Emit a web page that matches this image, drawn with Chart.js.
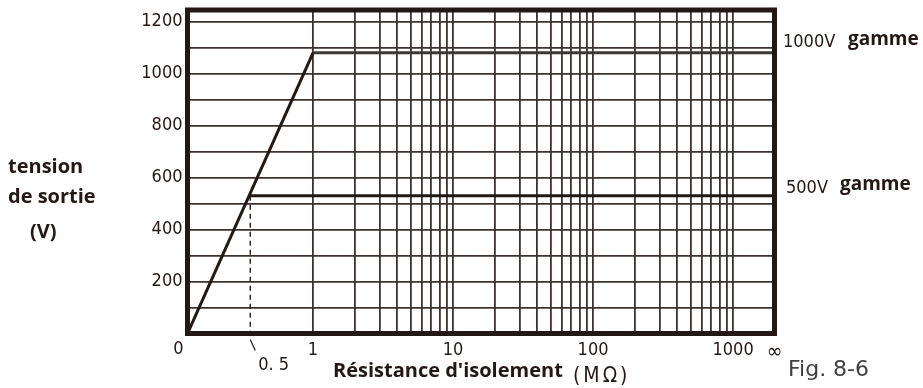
<!DOCTYPE html>
<html>
<head>
<meta charset="utf-8">
<script src="https://cdn.jsdelivr.net/npm/chart.js@4.4.1/dist/chart.umd.min.js"></script>
<style>
html, body { margin: 0; padding: 0; background: #fff; }
#wrap { width: 923px; height: 388px; }
</style>
</head>
<body>
<div id="wrap"><canvas id="fig86" width="923" height="388"></canvas></div>
<script>
// 絶縁抵抗 (MΩ) と出力電圧 (V) — Fig. 8-6
const rampR = [0, 1];
const rampV = [0, 1080];
const range1000R = [1, Infinity];
const range1000V = [1080, 1080];
const range500R = [0.5, Infinity];
const range500V = [530, 530];
const markR = [0.5, 0.5];
const markV = [530, 0];

// 縦のグリッド (0〜1 はリニア, 1〜1000 は対数, 右端は ∞)
const xGrid = [0, 1, 2, 3, 4, 5, 6, 7, 8, 9, 10, 20, 30, 40, 50, 60, 70, 80, 90,
    100, 200, 300, 400, 500, 600, 700, 800, 900, 1000, Infinity];
const xTickText = { 1: '1', 10: '10', 100: '100', 1000: '1000', Infinity: '∞' };
const yGrid = [0, 100, 200, 300, 400, 500, 600, 700, 800, 900, 1000, 1100, 1200];
const yTickText = [200, 400, 600, 800, 1000, 1200];

const INK = '#231815';
const GRID = '#3a3330';
const NUM_FONT = '"DejaVu Sans Condensed", "Liberation Sans", sans-serif';
const TXT_FONT = '"Open Sans", "Noto Sans", sans-serif';

// 横軸の変換: リニア部の幅を 1 とした座標
const DECADE = 1.1155;
const INF_GAP = 0.33;
function toAxis(r) {
    if (r === Infinity) return 1 + 3 * DECADE + INF_GAP;
    if (r <= 1) return r;
    return 1 + Math.log10(r) * DECADE;
}

function points(rs, vs) {
    return rs.map((r, i) => ({ x: toAxis(r), y: vs[i] }));
}

function lineSet(label, rs, vs, extra) {
    return Object.assign({
        type: 'line',
        label: label,
        data: points(rs, vs),
        borderColor: INK,
        borderWidth: 3,
        pointRadius: 0,
        tension: 0,
        fill: false,
    }, extra || {});
}

// 枠と文字
const figText = {
    id: 'figText',
    afterDraw(chart) {
        const { ctx, chartArea: a, scales: { x, y } } = chart;
        ctx.save();

        // 外枠
        ctx.strokeStyle = INK;
        ctx.lineWidth = 5;
        ctx.strokeRect(a.left, a.top, a.right - a.left, a.bottom - a.top);

        // 原点の 0
        ctx.fillStyle = INK;
        ctx.font = '18px ' + NUM_FONT;
        ctx.textAlign = 'center';
        ctx.textBaseline = 'alphabetic';
        ctx.fillText('0', a.left - 9, a.bottom + 20);

        // 0.5 の引き出し線
        const px = x.getPixelForValue(toAxis(0.5));
        ctx.lineWidth = 1.2;
        ctx.beginPath();
        ctx.moveTo(px, a.bottom + 6);
        ctx.lineTo(px + 5, a.bottom + 17);
        ctx.stroke();
        ctx.textAlign = 'left';
        ctx.font = '18px ' + NUM_FONT;
        ctx.fillText('0. 5', px + 8, a.bottom + 36);

        // 横軸タイトル
        ctx.font = 'bold 20px ' + TXT_FONT;
        ctx.fillText("Résistance d'isolement", 333, 377);
        ctx.font = '21px ' + NUM_FONT;
        ctx.letterSpacing = '3px';
        ctx.fillText('(MΩ)', 573, 382);
        ctx.letterSpacing = '0px';

        // 縦軸タイトル
        ctx.font = 'bold 20px ' + TXT_FONT;
        ctx.fillText('tension', 8, 173);
        ctx.fillText('de sortie', 8, 203);
        ctx.fillText('(V)', 30, 238);

        // レンジ名
        const y1000 = y.getPixelForValue(1080);
        const y500 = y.getPixelForValue(530);
        ctx.font = '18px ' + NUM_FONT;
        ctx.fillText('1000V', 783, y1000 - 6);
        ctx.fillText('500V', 786, y500 - 3);
        ctx.font = 'bold 19px ' + TXT_FONT;
        ctx.fillText('gamme', 848, y1000 - 8);
        ctx.fillText('gamme', 840, y500 - 6);

        // 図番号
        ctx.fillStyle = '#404040';
        ctx.font = '22px "DejaVu Sans", sans-serif';
        ctx.fillText('Fig. 8-6', 788, 376);

        ctx.restore();
    }
};

new Chart(document.getElementById('fig86'), {
    type: 'line',
    data: {
        datasets: [
            lineSet('ramp', rampR, rampV),
            lineSet('1000V', range1000R, range1000V, { borderColor: '#3d3735' }),
            lineSet('500V', range500R, range500V),
            lineSet('0.5', markR, markV, { borderWidth: 1.4, borderDash: [5, 4] }),
        ],
    },
    options: {
        responsive: false,
        animation: false,
        events: [],
        layout: { padding: { top: 10, right: 148.5, bottom: 0, left: 0 } },
        plugins: {
            legend: { display: false },
            tooltip: { enabled: false },
        },
        scales: {
            x: {
                type: 'linear',
                min: 0,
                max: toAxis(Infinity),
                afterBuildTicks: (s) => { s.ticks = xGrid.map(r => ({ value: toAxis(r) })); },
                afterFit: (s) => { s.height = 54.5; s.paddingLeft = 0; s.paddingRight = 0; },
                border: { display: false },
                grid: { color: GRID, lineWidth: 1.8, drawTicks: false },
                ticks: {
                    autoSkip: false,
                    maxRotation: 0,
                    padding: 6,
                    color: INK,
                    // ∞ だけ少し大きめ
                    font: (c) => ({ family: NUM_FONT, size: c.tick && c.tick.value === toAxis(Infinity) ? 21 : 18 }),
                    callback: (v, i) => xTickText[xGrid[i]] || '',
                },
            },
            y: {
                type: 'linear',
                min: 0,
                max: 1245,
                afterBuildTicks: (s) => { s.ticks = yGrid.map(v => ({ value: v })); },
                afterFit: (s) => { s.width = 187.5; s.paddingTop = 0; s.paddingBottom = 0; },
                border: { display: false },
                grid: { color: GRID, lineWidth: 1.8, drawTicks: false },
                ticks: {
                    autoSkip: false,
                    padding: 5,
                    color: INK,
                    font: { family: NUM_FONT, size: 18 },
                    callback: (v) => yTickText.includes(v) ? String(v) : '',
                },
            },
        },
    },
    plugins: [figText],
});
</script>
</body>
</html>
